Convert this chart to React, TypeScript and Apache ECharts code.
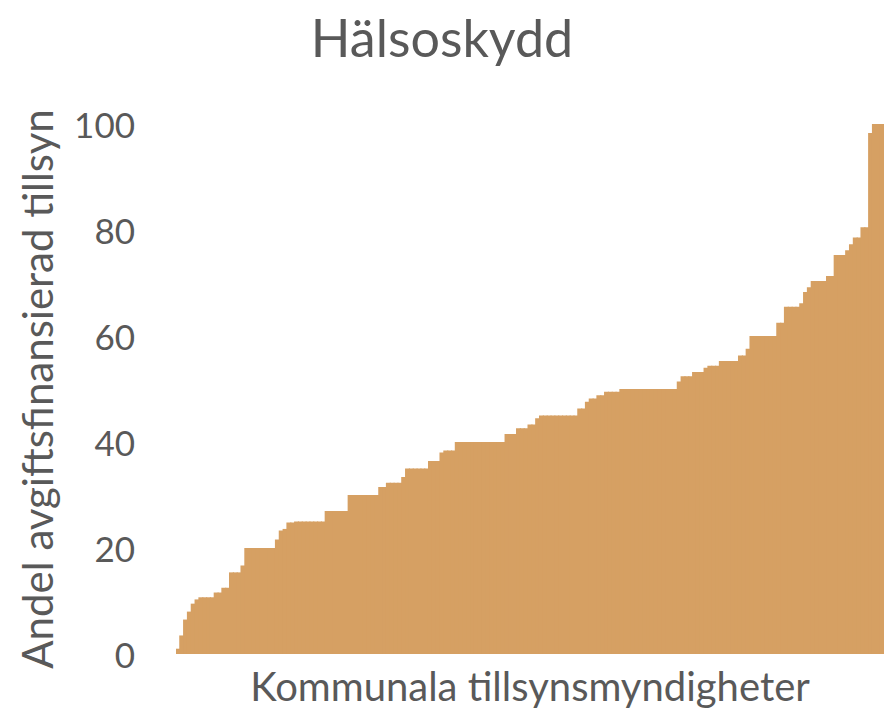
import React, { useEffect, useRef } from "react";
import * as echarts from "echarts";

const titleText = "Hälsoskydd";
const yAxisName = "Andel avgiftsfinansierad tillsyn";
const xAxisName = "Kommunala tillsynsmyndigheter";
const yTicks = [0, 20, 40, 60, 80, 100];

// Share of fee-financed supervision per municipal authority, sorted ascending
const values: number[] = [
  1, 3.5, 6.5, 8, 9.5, 10.3,
  10.7, 10.7, 10.7, 10.7,
  11.6, 11.6,
  12.5, 12.5,
  15.4, 15.4, 15.4,
  16.7,
  20, 20, 20, 20, 20, 20, 20, 20,
  21.6,
  23.3, 23.6,
  24.8, 24.8,
  25, 25, 25, 25, 25, 25, 25, 25,
  27, 27, 27, 27, 27, 27,
  30, 30, 30, 30, 30, 30, 30, 30,
  31.5, 31.5,
  32.3, 32.3, 32.3, 32.3,
  33.4,
  35, 35, 35, 35, 35, 35,
  36.4, 36.4, 36.4,
  38,
  38.4, 38.4, 38.4,
  40, 40, 40, 40, 40, 40, 40, 40, 40, 40, 40, 40, 40,
  41.5, 41.5, 41.5,
  42.6, 42.6, 42.6,
  43.3, 43.3,
  44.5,
  45, 45, 45, 45, 45, 45, 45, 45, 45, 45,
  46.3, 46.3,
  47.6,
  48.2, 48.2,
  48.8, 48.8,
  49.5, 49.5, 49.5, 49.5,
  50, 50, 50, 50, 50, 50, 50, 50, 50, 50, 50, 50, 50, 50, 50,
  51.4,
  52.4, 52.4, 52.4,
  53.2, 53.2, 53.2,
  54,
  54.4, 54.4, 54.4,
  55.3, 55.3, 55.3, 55.3, 55.3,
  56.3, 56.3,
  57.6,
  60, 60, 60, 60, 60, 60, 60,
  62.5, 62.5,
  65.5, 65.5, 65.5, 65.5,
  66.2,
  68.3,
  69.2,
  70.4, 70.4, 70.4, 70.4,
  71.3, 71.3,
  75.3, 75.3, 75.3,
  76.2,
  77.3,
  78.6, 78.6,
  80.5, 80.5,
  98.3,
  100, 100, 100,
];

const categories: string[] = values.map((_, i) => String(i + 1));

const FONT = "Lato, 'Open Sans', 'Noto Sans', sans-serif";
const GREY = "#595959";
const BAR = "#D6A063";

export default function App() {
  const ref = useRef<HTMLDivElement>(null);

  useEffect(() => {
    if (!ref.current) return;
    const chart = echarts.init(ref.current, null, { renderer: "svg" });
    chart.setOption({
      animation: false,
      backgroundColor: "#ffffff",
      title: {
        text: titleText,
        left: "center",
        top: 6,
        textStyle: {
          fontFamily: FONT,
          fontSize: 52,
          fontWeight: "normal",
          color: GREY,
        },
      },
      grid: { left: 176, right: 0, top: 124, bottom: 54, containLabel: false },
      xAxis: {
        type: "category",
        data: categories,
        boundaryGap: true,
        axisLine: { show: false },
        axisTick: { show: false },
        axisLabel: { show: false },
        splitLine: { show: false },
        name: xAxisName,
        nameLocation: "middle",
        nameGap: 12,
        nameTextStyle: {
          fontFamily: FONT,
          fontSize: 40,
          color: GREY,
        },
      },
      yAxis: {
        type: "value",
        min: 0,
        max: 100,
        interval: 20,
        axisLine: { show: false },
        axisTick: { show: false },
        splitLine: { show: false },
        axisLabel: {
          margin: 41,
          fontFamily: FONT,
          fontSize: 35,
          color: GREY,
          formatter: (v: number) => (yTicks.includes(v) ? String(v) : ""),
        },
        name: yAxisName,
        nameLocation: "middle",
        nameGap: 118,
        nameRotate: 90,
        nameTextStyle: {
          fontFamily: FONT,
          fontSize: 42,
          color: GREY,
        },
      },
      series: [
        {
          type: "bar",
          data: values,
          barWidth: 5,
          barGap: "-100%",
          itemStyle: { color: BAR },
          emphasis: { disabled: true },
        },
      ],
    });
    return () => chart.dispose();
  }, []);

  return (
    <div
      ref={ref}
      style={{ position: "fixed", left: 0, top: 0, width: 884, height: 711 }}
    />
  );
}
